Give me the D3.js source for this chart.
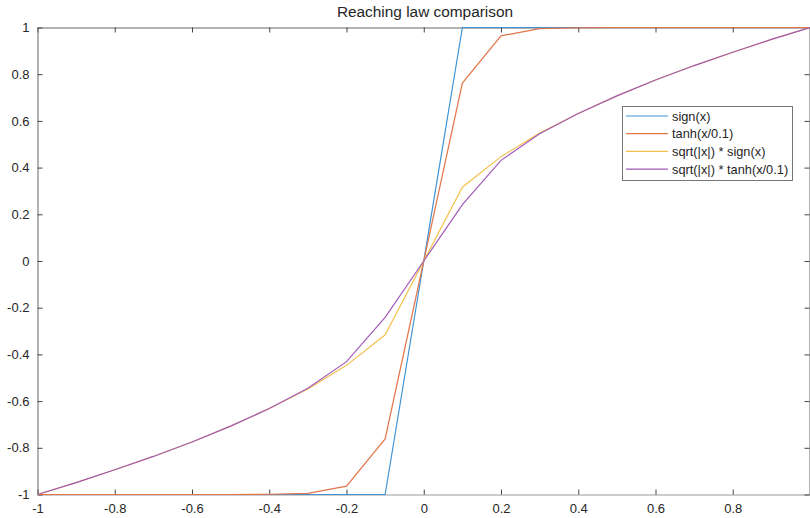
<!DOCTYPE html>
<meta charset="utf-8">
<style>
body { margin: 0; background: #fff; }
text { font-family: "Liberation Sans", Arial, sans-serif; fill: #262626; }
</style>
<svg width="810" height="518"></svg>
<script src="https://cdn.jsdelivr.net/npm/d3@7"></script>
<script>

var xs = [-1, -0.9, -0.8, -0.7, -0.6, -0.5, -0.4, -0.3, -0.2, -0.1, 0,
          0.1, 0.2, 0.3, 0.4, 0.5, 0.6, 0.7, 0.8, 0.9, 1];

var signY = [-1, -1, -1, -1, -1, -1, -1, -1, -1, -1, 0,
             1, 1, 1, 1, 1, 1, 1, 1, 1, 1];
var tanhY = [-1, -1, -1, -1, -1, -1, -0.999, -0.995, -0.964, -0.762, 0,
             0.762, 0.964, 0.995, 0.999, 1, 1, 1, 1, 1, 1];
var sqrtSignY = [-1, -0.949, -0.894, -0.837, -0.775, -0.707, -0.632, -0.548, -0.447, -0.316, 0,
                 0.316, 0.447, 0.548, 0.632, 0.707, 0.775, 0.837, 0.894, 0.949, 1];
var sqrtTanhY = [-1, -0.949, -0.894, -0.837, -0.775, -0.707, -0.632, -0.545, -0.431, -0.241, 0,
                 0.241, 0.431, 0.545, 0.632, 0.707, 0.775, 0.837, 0.894, 0.949, 1];

var names = ["sign(x)", "tanh(x/0.1)", "sqrt(|x|) * sign(x)", "sqrt(|x|) * tanh(x/0.1)"];
var colors = ["#3f93d4", "#e2754a", "#f3c04c", "#a25ab8"];
var xTicks = [-1, -0.8, -0.6, -0.4, -0.2, 0, 0.2, 0.4, 0.6, 0.8];
var yTicks = [-1, -0.8, -0.6, -0.4, -0.2, 0, 0.2, 0.4, 0.6, 0.8, 1];

var svg = d3.select("svg");
var plotL = 37.5, plotR = 810, plotT = 27.5, plotB = 494.5;

var x = d3.scaleLinear().domain([-1, 1]).range([plotL, plotR]);
var y = d3.scaleLinear().domain([-1, 1]).range([plotB, plotT]);

var series = [signY, tanhY, sqrtSignY, sqrtTanhY];

var line = d3.line()
    .x(function(d, i) { return x(xs[i]); })
    .y(function(d) { return y(d); });

function label(d) { return String(d); }

// axes with inward ticks, box on
var xAxis = svg.append("g")
    .attr("transform", "translate(0," + plotB + ")")
    .call(d3.axisBottom(x).tickValues(xTicks).tickSizeInner(-5).tickSizeOuter(0).tickPadding(9).tickFormat(label));
xAxis.select(".domain").attr("stroke", "#999");

svg.append("g")
    .attr("transform", "translate(0," + plotT + ")")
    .call(d3.axisTop(x).tickValues(xTicks).tickSizeInner(-5).tickSizeOuter(0).tickFormat(""))
    .select(".domain").attr("stroke", "#666");

var yAxis = svg.append("g")
    .attr("transform", "translate(" + plotL + ",0)")
    .call(d3.axisLeft(y).tickValues(yTicks).tickSizeInner(-5).tickSizeOuter(0).tickPadding(8).tickFormat(label));
yAxis.select(".domain").attr("stroke", "#666");

svg.append("g")
    .attr("transform", "translate(" + (plotR - 0.5) + ",0)")
    .call(d3.axisRight(y).tickValues(yTicks).tickSizeInner(-5).tickSizeOuter(0).tickFormat(""))
    .select(".domain").attr("stroke", "#666");

svg.selectAll(".tick line").attr("stroke", "#444");
svg.selectAll(".tick text").style("fill", "#262626").attr("font-size", "13px")
    .attr("font-family", "Liberation Sans, Arial, sans-serif");

svg.selectAll(".series")
    .data(series)
  .enter().append("path")
    .attr("class", "series")
    .attr("d", line)
    .attr("fill", "none")
    .attr("stroke", function(d, i) { return colors[i]; })
    .attr("stroke-width", 1.2);

svg.append("text")
    .attr("x", 425)
    .attr("y", 17)
    .attr("text-anchor", "middle")
    .attr("font-size", "15.4px")
    .text("Reaching law comparison");

// legend
var legend = svg.append("g").attr("transform", "translate(622,106)");
legend.append("rect")
    .attr("x", 0.5).attr("y", 0.5)
    .attr("width", 170).attr("height", 74)
    .attr("fill", "#fff")
    .attr("stroke", "#777");

var row = legend.selectAll(".row")
    .data(names)
  .enter().append("g")
    .attr("class", "row")
    .attr("transform", function(d, i) { return "translate(0," + (10 + i * 17.7) + ")"; });
row.append("line")
    .attr("x1", 4).attr("x2", 46)
    .attr("stroke", function(d, i) { return colors[i]; })
    .attr("stroke-width", 1.2);
row.append("text")
    .attr("x", 50)
    .attr("y", 4.5)
    .attr("font-size", "12.8px")
    .text(function(d) { return d; });

</script>
